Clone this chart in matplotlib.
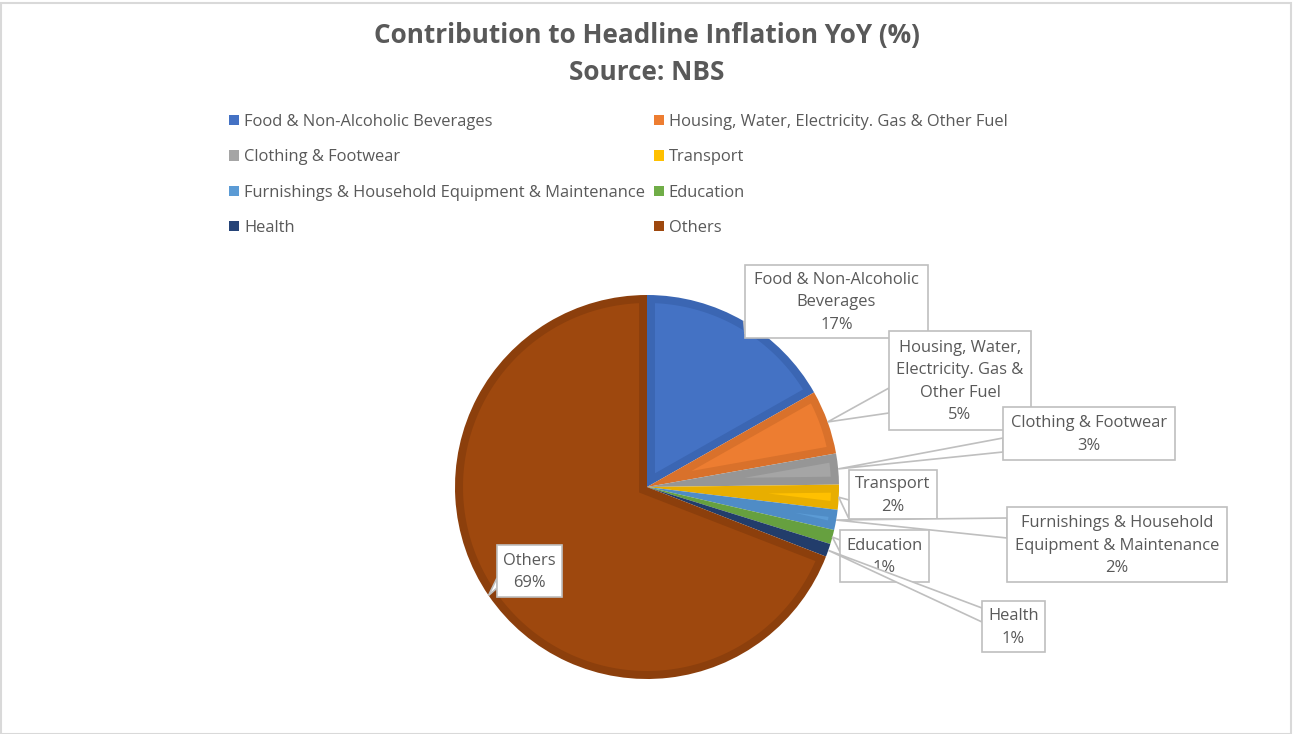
import matplotlib
matplotlib.use("Agg")
import matplotlib.pyplot as plt
from matplotlib.patches import Rectangle, Polygon, Patch
import numpy as np

plt.rcParams['font.family'] = ['Open Sans', 'DejaVu Sans']

# ---- dados ----
categorias = ["Food & Non-Alcoholic Beverages",
              "Housing, Water, Electricity. Gas & Other Fuel",
              "Clothing & Footwear",
              "Transport",
              "Furnishings & Household Equipment & Maintenance",
              "Education",
              "Health",
              "Others"]
valores = [16.8, 5.4, 2.6, 2.1, 1.7, 1.2, 1.1, 69.1]
rotulos = ["Food & Non-Alcoholic\nBeverages",
           "Housing, Water,\nElectricity. Gas &\nOther Fuel",
           "Clothing & Footwear",
           "Transport",
           "Furnishings & Household\nEquipment & Maintenance",
           "Education",
           "Health",
           "Others"]

cores = ['#4472C4', '#ED7D31', '#A5A5A5', '#FFC000',
         '#5B9BD5', '#70AD47', '#264478', '#9E480E']
bordas = ['#3B66B3', '#D9712B', '#969696', '#E8AE00',
          '#4F8CC6', '#66A03F', '#223D6B', '#8C3F0C']

# caixas dos rotulos (x0, y0, x1, y1) em pixels e base do "callout"
caixas = [(745, 265, 928, 338), (889, 331, 1031, 430), (1003, 407, 1175, 460),
          (849, 470, 937, 519), (1007, 507, 1227, 582), (840, 530, 929, 582),
          (982, 601, 1045, 652), (497, 545, 562, 597)]
bases = [(322, 334), (388, 413), (438, 452), (500, 519),
         (518, 538), (540, 552), (608, 622), (578, 588)]

W, H = 1293, 734
fig = plt.figure(figsize=(W / 100, H / 100), dpi=100)
ax = fig.add_axes([0, 0, 1, 1])

cx, cy, r = 647, 487, 192
borda_px = 8  # largura da borda escura

# pizza de fundo com a cor da borda
wedges, _ = ax.pie(valores, colors=bordas, center=(cx, cy), radius=r,
                   startangle=-90, counterclock=True,
                   wedgeprops=dict(linewidth=0))

# miolo mais claro de cada fatia (fatia recuada para dentro)
for w, c in zip(wedges, cores):
    t1, t2 = np.deg2rad(w.theta1), np.deg2rad(w.theta2)
    meia = (t2 - t1) / 2
    meio = (t1 + t2) / 2
    d_apice = borda_px / np.sin(meia)
    ri = r - borda_px
    if d_apice >= ri:
        continue
    delta = np.arcsin(borda_px / ri)
    ang = np.linspace(t1 + delta, t2 - delta, 200)
    pts = [(cx + d_apice * np.cos(meio), cy + d_apice * np.sin(meio))]
    pts += list(zip(cx + ri * np.cos(ang), cy + ri * np.sin(ang)))
    ax.add_patch(Polygon(pts, closed=True, facecolor=c, edgecolor='none', zorder=2))

ax.set_xlim(0, W)
ax.set_ylim(H, 0)
ax.set_aspect('equal')
ax.axis('off')

total = sum(valores)
cinza = '#BFBFBF'
for i, w in enumerate(wedges):
    meio = np.deg2rad((w.theta1 + w.theta2) / 2)
    px = cx + r * np.cos(meio)
    py = cy + r * np.sin(meio)
    x0, y0, x1, y1 = caixas[i]
    ya, yb = bases[i]
    z = 5 + 2 * i
    ax.add_patch(Polygon([(x0, ya), (px, py), (x0, yb)], closed=True,
                         facecolor='white', edgecolor=cinza, lw=1.2, zorder=z))
    ax.add_patch(Rectangle((x0, y0), x1 - x0, y1 - y0, facecolor='white',
                           edgecolor=cinza, lw=1.2, zorder=z))
    pct = f"{round(valores[i] / total * 100):.0f}%"
    ax.text((x0 + x1) / 2, (y0 + y1) / 2 + 1, rotulos[i] + "\n" + pct,
            ha='center', va='center', fontsize=11.9, color='#595959',
            linespacing=1.54, zorder=z + 1)

fig.text(0.5, 1 - 35 / H, "Contribution to Headline Inflation YoY (%)",
         ha='center', va='center', fontsize=18.8, fontweight='bold', color='#595959')
fig.text(0.5, 1 - 72.5 / H, "Source: NBS",
         ha='center', va='center', fontsize=18.8, fontweight='bold', color='#595959')

# legenda em linhas (ordem por linha)
ordem = [0, 2, 4, 6, 1, 3, 5, 7]
handles = [Patch(facecolor=cores[k], edgecolor='none') for k in ordem]
nomes = [categorias[k] for k in ordem]
fig.legend(handles, nomes, ncol=2, loc='upper left',
           bbox_to_anchor=(229 / W, 1 - 114 / H), frameon=False,
           fontsize=11.9, handlelength=0.6, handleheight=0.6,
           handletextpad=0.3, columnspacing=0.55, labelspacing=1.17,
           borderpad=0, borderaxespad=0, labelcolor='#595959')

fig.add_artist(Rectangle((0.5 / W, 0.5 / H), 1 - 3 / W, 1 - 3 / H,
                         transform=fig.transFigure, fill=False,
                         edgecolor='#D9D9D9', lw=1.5))

fig.savefig('out.png', dpi=100, facecolor='white')
